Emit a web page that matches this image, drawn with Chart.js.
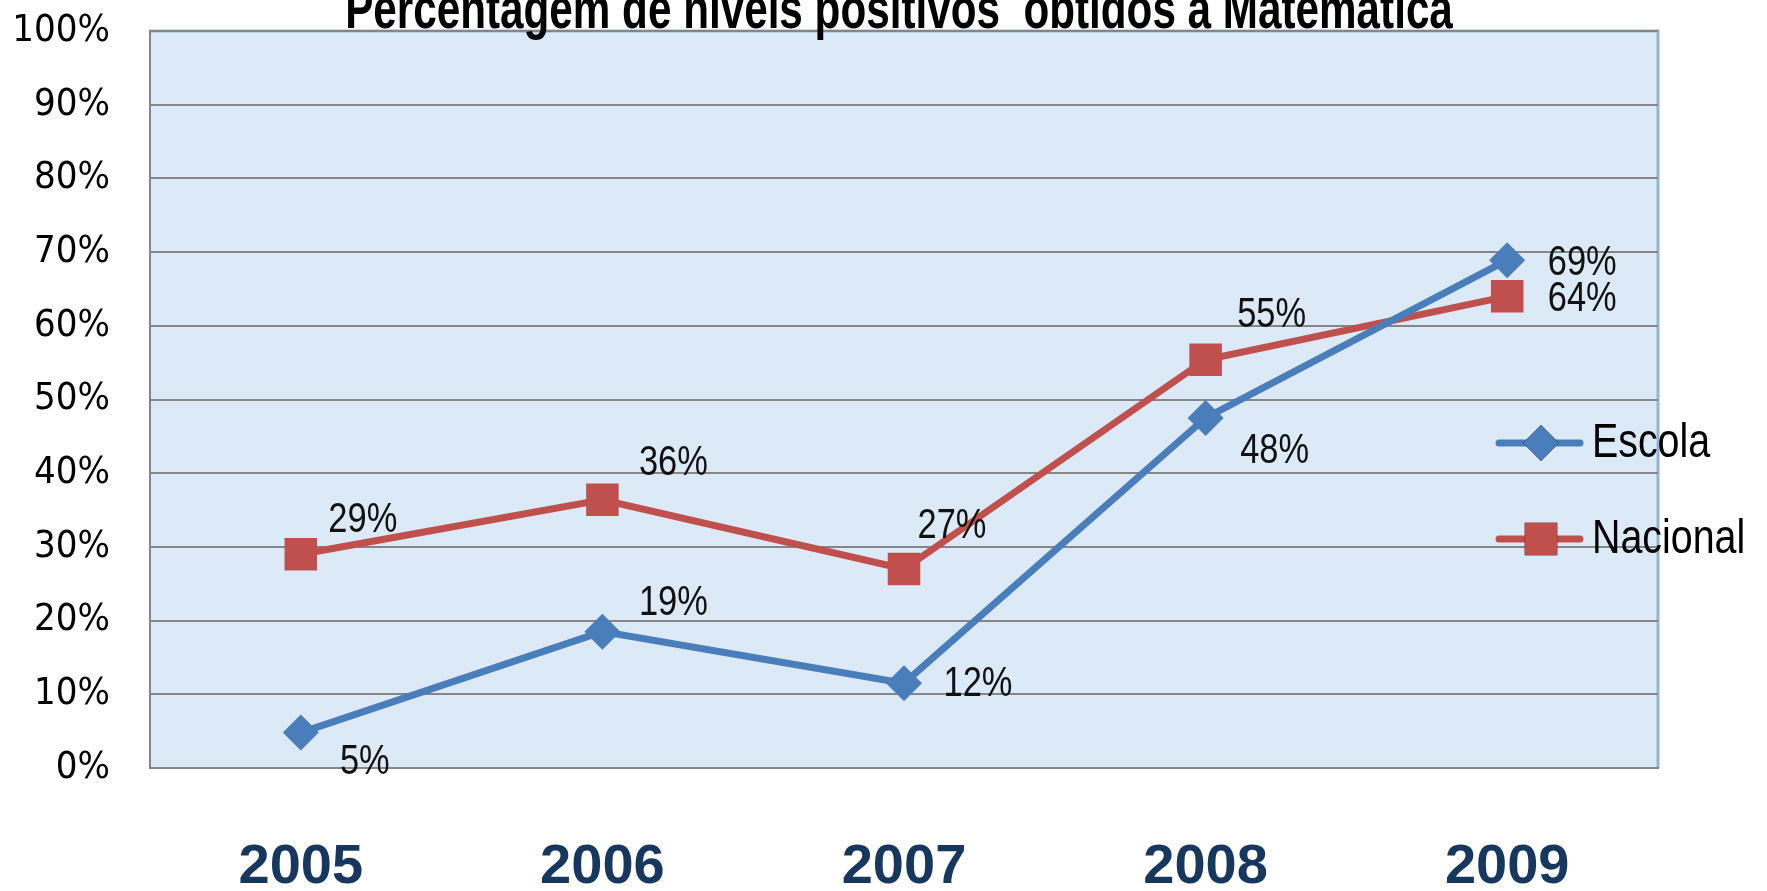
<!DOCTYPE html>
<html>
<head>
<meta charset="utf-8">
<script src="https://cdn.jsdelivr.net/npm/chart.js@4/dist/chart.umd.min.js"></script>
<style>
  html, body { margin: 0; padding: 0; background: #fff; }
  #wrap { width: 1767px; height: 891px; position: relative; }
</style>
</head>
<body>
<div id="wrap"><canvas id="chart"></canvas></div>
<script>
// Percentagem de níveis positivos a Matemática — escola vs. nacional.

const TITLE = "Percentagem de níveis positivos  obtidos a Matemática";
const YEARS = ["2005", "2006", "2007", "2008", "2009"];
const ESCOLA = [4.8, 18.5, 11.5, 47.5, 68.9];
const NACIONAL = [29, 36.4, 27, 55.4, 64];
const Y_TICKS = [0, 10, 20, 30, 40, 50, 60, 70, 80, 90, 100];

// where each value label sits relative to its marker (px)
const ESCOLA_LABEL_OFFSETS = [[64, 30], [71, -28], [74, 1], [69, 33], [75, 3]];
const NACIONAL_LABEL_OFFSETS = [[62, -34], [71, -36], [48, -43], [66, -44], [75, 3]];

const SANS = "'Liberation Sans', Arial, sans-serif";
const COND = "'DejaVu Sans Condensed', 'Liberation Sans', sans-serif";
const NARROW = 0.82; // squeeze for the hand-drawn text (no narrow face installed)
const BLUE = "#4a7ebb";
const RED = "#c0504d";
const GRID = "#868686";

// draw text squeezed horizontally around (x, y)
function narrowText(ctx, text, x, y, align, sy = 1) {
  ctx.save();
  ctx.translate(x, y);
  ctx.scale(NARROW, sy);
  ctx.textAlign = align;
  ctx.fillText(text, 0, 0);
  ctx.restore();
}

// plot background + borders, drawn under everything
const plotBackground = {
  id: "plotBackground",
  beforeDraw(chart) {
    const { ctx, chartArea: a } = chart;
    ctx.save();
    ctx.fillStyle = "#dce9f7";
    ctx.fillRect(a.left, a.top, a.right - a.left, a.bottom - a.top);
    ctx.strokeStyle = "#95b3d7";
    ctx.lineWidth = 3;
    ctx.beginPath();
    ctx.moveTo(a.left, a.top);
    ctx.lineTo(a.right, a.top);
    ctx.lineTo(a.right, a.bottom);
    ctx.stroke();
    ctx.restore();
  },
};

const titleText = {
  id: "titleText",
  afterDraw(chart) {
    const { ctx } = chart;
    ctx.save();
    ctx.font = `bold 51.5px ${SANS}`;
    ctx.fillStyle = "#000";
    ctx.textBaseline = "alphabetic";
    narrowText(ctx, TITLE, 899, 28, "center", 1.1);
    ctx.restore();
  },
};

const valueLabels = {
  id: "valueLabels",
  afterDatasetsDraw(chart) {
    const { ctx } = chart;
    ctx.save();
    ctx.font = `42px ${SANS}`;
    ctx.fillStyle = "#111";
    ctx.textBaseline = "middle";
    chart.data.datasets.forEach((ds, i) => {
      const meta = chart.getDatasetMeta(i);
      meta.data.forEach((pt, j) => {
        const [dx, dy] = ds.labelOffsets[j];
        narrowText(ctx, `${Math.round(ds.data[j])}%`, pt.x + dx, pt.y + dy, "center");
      });
    });
    ctx.restore();
  },
};

const sideLegend = {
  id: "sideLegend",
  afterDraw(chart) {
    const { ctx } = chart;
    const rows = [
      { y: 443, ds: chart.data.datasets[0] },
      { y: 539, ds: chart.data.datasets[1] },
    ];
    ctx.save();
    for (const r of rows) {
      ctx.strokeStyle = r.ds.borderColor;
      ctx.lineWidth = r.ds.borderWidth;
      ctx.lineCap = "round";
      ctx.beginPath();
      ctx.moveTo(1499, r.y);
      ctx.lineTo(1580, r.y);
      ctx.stroke();
      Chart.helpers.drawPoint(ctx, {
        pointStyle: r.ds.pointStyle,
        radius: r.ds.pointRadius,
        borderWidth: 0,
      }, 1541, r.y);
      ctx.fillStyle = r.ds.borderColor;
      ctx.fill();
      ctx.font = `48px ${SANS}`;
      ctx.fillStyle = "#000";
      ctx.textBaseline = "middle";
      narrowText(ctx, r.ds.label, 1592, r.y + 1, "left");
    }
    ctx.restore();
  },
};

new Chart(document.getElementById("chart"), {
  type: "line",
  data: {
    labels: YEARS,
    datasets: [
      {
        label: "Escola",
        data: ESCOLA,
        labelOffsets: ESCOLA_LABEL_OFFSETS,
        borderColor: BLUE,
        backgroundColor: BLUE,
        borderWidth: 7,
        pointStyle: "rectRot",
        pointRadius: 18,
        pointBorderWidth: 0,
        tension: 0,
      },
      {
        label: "Nacional",
        data: NACIONAL,
        labelOffsets: NACIONAL_LABEL_OFFSETS,
        borderColor: RED,
        backgroundColor: RED,
        borderWidth: 7,
        pointStyle: "rect",
        pointRadius: 23,
        pointBorderWidth: 0,
        tension: 0,
      },
    ],
  },
  options: {
    responsive: true,
    maintainAspectRatio: false,
    animation: false,
    layout: { padding: { top: 31, right: 109, bottom: 0, left: 0 } },
    plugins: {
      legend: { display: false },
      title: { display: false },
      tooltip: { enabled: false },
    },
    scales: {
      x: {
        offset: true,
        afterFit: (s) => { s.height = 123; },
        grid: { display: false, drawTicks: false },
        border: { display: true, color: GRID, width: 2 },
        ticks: {
          padding: 66,
          color: "#17375e",
          font: { family: SANS, size: 56, weight: "bold" },
        },
      },
      y: {
        min: 0,
        max: 100,
        afterFit: (s) => {
          s.width = 150;
          s.paddingTop = 0;
          s.paddingBottom = 0;
        },
        afterBuildTicks: (s) => { s.ticks = Y_TICKS.map((v) => ({ value: v })); },
        grid: { color: GRID, lineWidth: 2, drawTicks: false },
        border: { display: true, color: GRID, width: 2 },
        ticks: {
          padding: 40,
          color: "#000",
          font: { family: COND, size: 38 },
          callback: (v) => `${v}%`,
        },
      },
    },
  },
  plugins: [plotBackground, valueLabels, sideLegend, titleText],
});
</script>
</body>
</html>
